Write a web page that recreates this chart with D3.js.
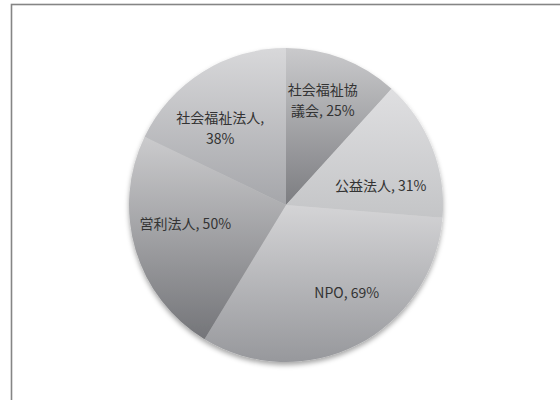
<!DOCTYPE html>
<html>
<head>
<meta charset="utf-8">
<script src="https://cdn.jsdelivr.net/npm/d3@7"></script>
<style>
  html, body { margin: 0; padding: 0; background: #fff; }
  svg { display: block; }
  text { font-family: "Noto Sans CJK JP", "Open Sans", sans-serif; }
</style>
</head>
<body>
<svg id="chart" width="560" height="400"></svg>
<script>
// Organisation types and their shares (%)
const categories = ["社会福祉協議会", "公益法人", "NPO", "営利法人", "社会福祉法人"];
const values = [25, 31, 69, 50, 38];
// Label text lines for each slice
const labelLines = [
  ["社会福祉協", "議会, 25%"],
  ["公益法人, 31%"],
  ["NPO, 69%"],
  ["営利法人, 50%"],
  ["社会福祉法人,", "38%"]
];
// Gradient stops (top, bottom) per slice
const gradTop = ["#cacacc", "#dfdfe1", "#d4d4d6", "#cbcbcd", "#d8d8da"];
const gradBottom = ["#7c7d81", "#c4c5c7", "#97989c", "#747579", "#a5a6aa"];

const W = 560, H = 400;
const cx = 286, cy = 205, R = 157;

const svg = d3.select("#chart");
const defs = svg.append("defs");

// Per-slice vertical gradients
categories.forEach((c, i) => {
  const g = defs.append("linearGradient")
    .attr("id", "grad" + i)
    .attr("x1", 0).attr("y1", 0).attr("x2", 0).attr("y2", 1);
  g.append("stop").attr("offset", "0%").attr("stop-color", gradTop[i]);
  g.append("stop").attr("offset", "100%").attr("stop-color", gradBottom[i]);
});

// Soft shadow under the pie
const f = defs.append("filter").attr("id", "shadow")
  .attr("x", "-20%").attr("y", "-20%").attr("width", "140%").attr("height", "140%");
f.append("feDropShadow")
  .attr("dx", 0).attr("dy", 3).attr("stdDeviation", 2.5)
  .attr("flood-color", "#000").attr("flood-opacity", 0.35);

// Outer frame (top and left edges visible)
svg.append("rect")
  .attr("x", 11.5).attr("y", 4.5)
  .attr("width", 700).attr("height", 600)
  .attr("fill", "none")
  .attr("stroke", "#858585")
  .attr("stroke-width", 1.6);

const pie = d3.pie().sort(null).value(d => d);
const arcs = pie(values);
const arc = d3.arc().innerRadius(0).outerRadius(R);
const labelArc = d3.arc().innerRadius(105).outerRadius(105);

const g = svg.append("g").attr("transform", `translate(${cx},${cy})`);

g.append("g").attr("filter", "url(#shadow)")
  .selectAll("path")
  .data(arcs)
  .join("path")
  .attr("d", arc)
  .attr("fill", (d, i) => `url(#grad${i})`);

// Small placement adjustments for label readability
const labelNudge = [[-1, -6], [-3, 20], [13, -5], [0, -11], [-10, 13]];
const lineH = 21;

const labels = g.append("g")
  .selectAll("text")
  .data(arcs)
  .join("text")
  .attr("text-anchor", "middle")
  .attr("font-size", 14)
  .attr("fill", "#333333")
  .attr("transform", (d, i) => {
    const [x, y] = labelArc.centroid(d);
    return `translate(${x + labelNudge[i][0]},${y + labelNudge[i][1]})`;
  });

labels.each(function(d, i) {
  const lines = labelLines[i];
  const t = d3.select(this);
  const y0 = -((lines.length - 1) * lineH) / 2;
  lines.forEach((ln, k) => {
    t.append("tspan")
      .attr("x", 0)
      .attr("y", y0 + k * lineH)
      .attr("dy", "0.35em")
      .text(ln);
  });
});
</script>
</body>
</html>
